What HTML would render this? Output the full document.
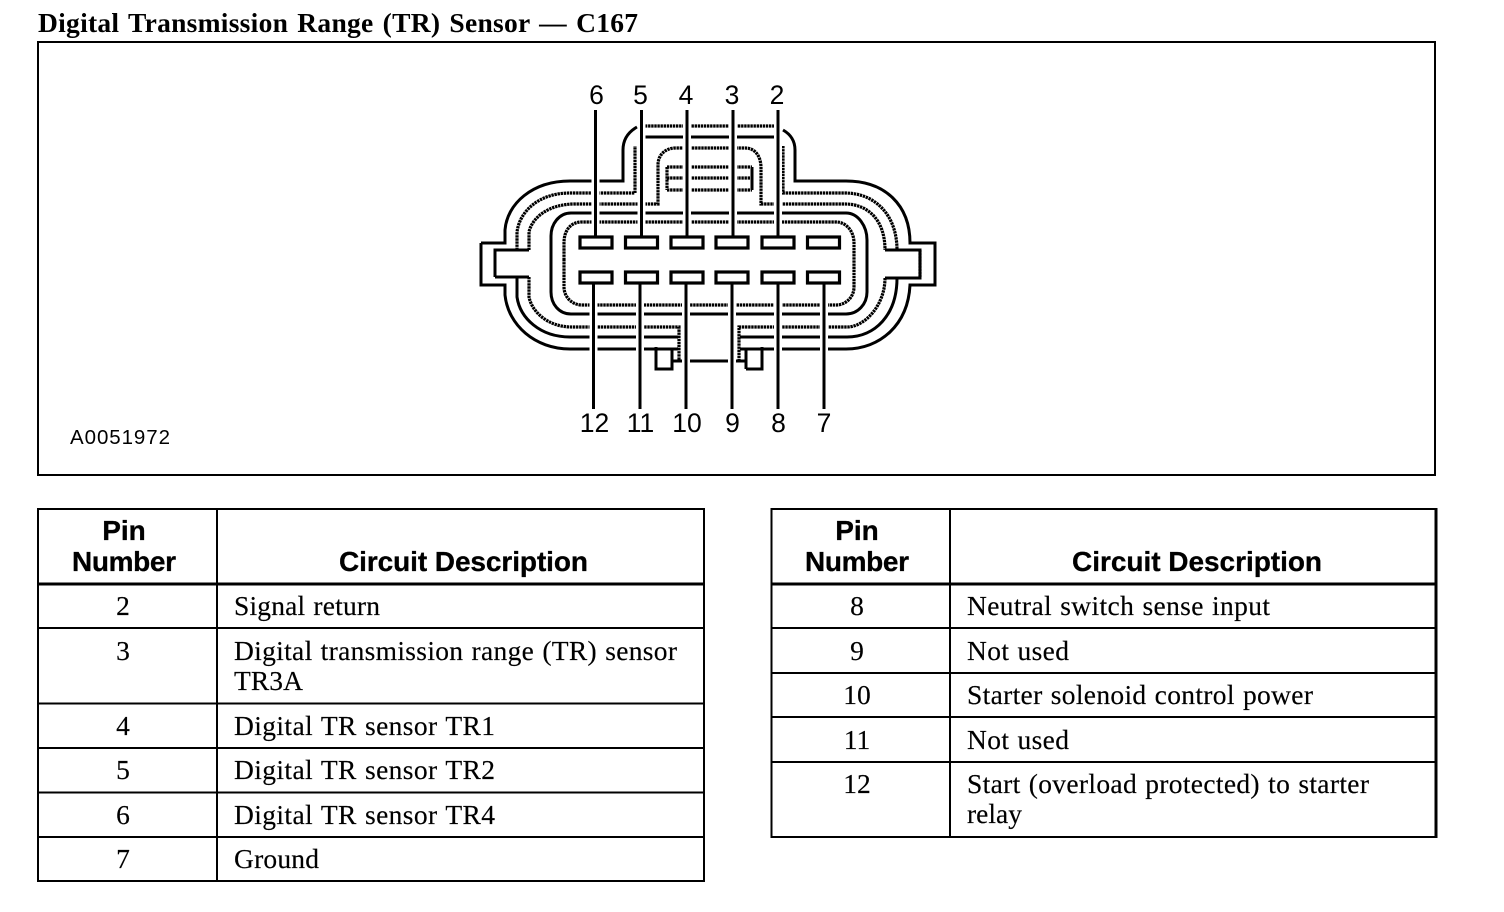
<!DOCTYPE html>
<html><head><meta charset="utf-8"><style>
html,body{margin:0;padding:0;background:#fff}
svg{display:block}
.t{font:bold 27.5px "Liberation Serif",serif;word-spacing:2px}
.s{font:27.5px "Liberation Serif",serif;stroke:#000;stroke-width:.15;word-spacing:1px}
.h{font:bold 28px "Liberation Sans",sans-serif;stroke:#000;stroke-width:.3}
.n{font:26.5px "Liberation Sans",sans-serif;text-anchor:middle}
.c{text-anchor:middle}
.l{fill:none;stroke:#000;stroke-width:3}
.d{fill:none;stroke:#000;stroke-width:3.2;stroke-dasharray:2.4 .7}
</style></head><body>
<svg width="1504" height="912" viewBox="0 0 1504 912" xmlns="http://www.w3.org/2000/svg">
<rect width="1504" height="912" fill="#fff"/>
<text class="t" x="38" y="32" textLength="600" lengthAdjust="spacing">Digital Transmission Range (TR) Sensor — C167</text>
<rect x="38" y="42" width="1397" height="433" fill="none" stroke="#000" stroke-width="2"/>

<!-- connector outlines -->
<path class="l" d="M481 243H505V230C507 204 532 181 570 181H623V150C623 138 630 131 637 127"/>
<path class="l" d="M481 243V285H505V295C508 325 535 349 570 349H678"/>
<path class="l" d="M495 277V250H529M495 277H529"/>
<path class="d" d="M517 250V232C520 210 540 193 570 193H635V146"/>
<path class="l" d="M517 277V297C520 318 540 337 570 337H678"/>
<path class="d" d="M529 250V232C532 218 548 204 575 204H658V165C658 155 665 148 676 148H745C755 148 761 156 761 168V204H845C868 204 885 220 885 250"/>
<path class="d" d="M529 277V297C532 312 548 327 572 327H679V361"/>
<path class="l" d="M551 260V236C551 224 559 213 571 213H846C858 213 867 226 867 240V260"/>
<path class="l" d="M551 260V292C551 304 559 314 571 314H846C858 314 867 304 867 292V260"/>
<path class="d" d="M564 260V243C564 231 570 222 582 222H836C846 222 854 231 854 243V287C854 297 846 305 836 305H582C572 305 564 297 564 287Z"/>
<path class="d" d="M645 126H775"/>
<path class="l" d="M645 137H775"/>
<path class="l" d="M783 130C790 134 795 140 795 150V181H846C885 181 910 205 910 243H935V285H910C908 325 880 349 846 349H740"/>
<path class="d" d="M783 146V193H845C875 193 897 215 897 250"/>
<path class="l" d="M885 278H920V250H885"/>
<path class="d" d="M920 250V277"/>
<path class="l" d="M897 278C897 315 875 337 847 337H740"/>
<path class="d" d="M885 278C885 305 865 327 847 327H739V361"/>
<path class="d" d="M667 167H752M667 178H752M667 190H752M667 167V190"/>
<path class="l" d="M752 167V190M673 361H682M690 361H728M736 361H745"/>
<path class="l" d="M656 347V369H672V349M746 369V349M746 369H762V347"/>

<!-- leaders (white halo, then black line) -->
<g stroke="#fff" stroke-width="8" fill="none">
<path d="M595.5 112V234M641.5 112V234M687 112V234M733 112V234M778 112V234"/>
<path d="M593.5 285V409M640 285V409M686 285V409M732 285V409M778 285V409M824 285V409"/>
</g>
<g stroke="#000" stroke-width="3" fill="none">
<path d="M595.5 110V236M641.5 110V236M687 110V236M733 110V236M778 110V236"/>
<path d="M593.5 283V409M640 283V409M686 283V409M732 283V409M778 283V409M824 283V409"/>
</g>
<!-- pins -->
<g fill="#fff" stroke="#000" stroke-width="3.2">
<rect x="580" y="237" width="32" height="11"/><rect x="625.5" y="237" width="32" height="11"/><rect x="671" y="237" width="32" height="11"/><rect x="716" y="237" width="32" height="11"/><rect x="762" y="237" width="32" height="11"/><rect x="807.5" y="237" width="32" height="11"/>
<rect x="580" y="272" width="32" height="11"/><rect x="625.5" y="272" width="32" height="11"/><rect x="671" y="272" width="32" height="11"/><rect x="716" y="272" width="32" height="11"/><rect x="762" y="272" width="32" height="11"/><rect x="807.5" y="272" width="32" height="11"/>
</g>
<g>
<text class="n" x="596.5" y="104">6</text><text class="n" x="640.5" y="104">5</text><text class="n" x="686" y="104">4</text><text class="n" x="732" y="104">3</text><text class="n" x="777" y="104">2</text>
<text class="n" x="594.5" y="432">12</text><text class="n" x="640.5" y="432">11</text><text class="n" x="687" y="432">10</text><text class="n" x="732.5" y="432">9</text><text class="n" x="778.5" y="432">8</text><text class="n" x="824" y="432">7</text>
</g>
<text x="70" y="444" style="font:20.5px 'Liberation Sans',sans-serif" textLength="100" lengthAdjust="spacing">A0051972</text>

<!-- tables -->
<g fill="none" stroke="#000" stroke-width="2">
<rect x="38" y="509" width="666" height="372"/>
<path d="M217 509V881M38 628H704M38 703.5H704M38 748H704M38 792.5H704M38 837H704"/>
<rect x="771.5" y="509" width="664.5" height="328"/>
<path d="M950 509V837M771 628H1436M771 673H1436M771 717H1436M771 762H1436"/>
</g>
<path d="M38 584H704M771 584H1436" stroke="#000" stroke-width="3"/>
<path d="M1436 508V838" stroke="#000" stroke-width="3"/>

<text class="h c" x="124" y="540">Pin</text>
<text class="h" x="72" y="571" textLength="104" lengthAdjust="spacing">Number</text>
<text class="h" x="339" y="571" textLength="249" lengthAdjust="spacing">Circuit Description</text>
<text class="s c" x="123" y="615">2</text><text class="s" x="234" y="615" textLength="146" lengthAdjust="spacing">Signal return</text>
<text class="s c" x="123" y="660">3</text><text class="s" x="234" y="660" textLength="443" lengthAdjust="spacing">Digital transmission range (TR) sensor</text>
<text class="s" x="234" y="690" textLength="69" lengthAdjust="spacing">TR3A</text>
<text class="s c" x="123" y="735">4</text><text class="s" x="234" y="735" textLength="261" lengthAdjust="spacing">Digital TR sensor TR1</text>
<text class="s c" x="123" y="779">5</text><text class="s" x="234" y="779" textLength="261" lengthAdjust="spacing">Digital TR sensor TR2</text>
<text class="s c" x="123" y="824">6</text><text class="s" x="234" y="824" textLength="261" lengthAdjust="spacing">Digital TR sensor TR4</text>
<text class="s c" x="123" y="868">7</text><text class="s" x="234" y="868" textLength="85" lengthAdjust="spacing">Ground</text>

<text class="h c" x="857" y="540">Pin</text>
<text class="h" x="805" y="571" textLength="104" lengthAdjust="spacing">Number</text>
<text class="h" x="1072" y="571" textLength="250" lengthAdjust="spacing">Circuit Description</text>
<text class="s c" x="857" y="615">8</text><text class="s" x="967" y="615" textLength="303" lengthAdjust="spacing">Neutral switch sense input</text>
<text class="s c" x="857" y="660">9</text><text class="s" x="967" y="660" textLength="102" lengthAdjust="spacing">Not used</text>
<text class="s c" x="857" y="704">10</text><text class="s" x="967" y="704" textLength="346" lengthAdjust="spacing">Starter solenoid control power</text>
<text class="s c" x="857" y="749">11</text><text class="s" x="967" y="749" textLength="102" lengthAdjust="spacing">Not used</text>
<text class="s c" x="857" y="793">12</text><text class="s" x="967" y="793" textLength="402" lengthAdjust="spacing">Start (overload protected) to starter</text>
<text class="s" x="967" y="823" textLength="55" lengthAdjust="spacing">relay</text>
</svg>
</body></html>
